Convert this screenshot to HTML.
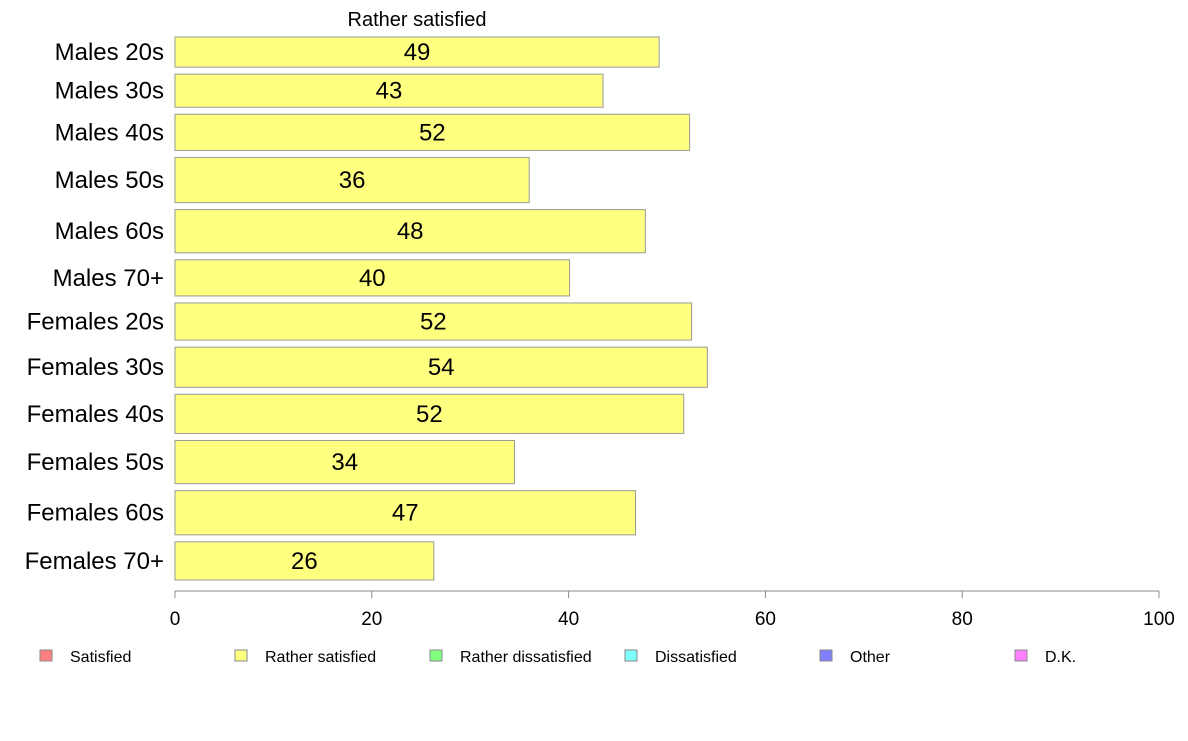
<!DOCTYPE html>
<html><head><meta charset="utf-8"><style>
body{margin:0;background:#fff;font-family:"Liberation Sans",Arial,sans-serif}
svg text{font-family:"Liberation Sans",Arial,sans-serif}
</style></head><body>
<svg id="c" width="1188" height="736">
<text x="417" y="26" font-size="20" text-anchor="middle">Rather satisfied</text>
<g id="bars"></g>
<g id="axis"></g>
<g id="legend"></g>
</svg>
<script>
const categories=["Males 20s","Males 30s","Males 40s","Males 50s","Males 60s","Males 70+","Females 20s","Females 30s","Females 40s","Females 50s","Females 60s","Females 70+"];
const values=[49.2,43.5,52.3,36,47.8,40.1,52.5,54.1,51.7,34.5,46.8,26.3];
const labels=["49","43","52","36","48","40","52","54","52","34","47","26"];
const rowWeights=[30,33,36,45,43,36,37,40,39,43,44,38];
const ticks=[0,20,40,60,80,100];
const legendItems=["Satisfied","Rather satisfied","Rather dissatisfied","Dissatisfied","Other","D.K."];
const legendColors=["#ff8080","#ffff80","#80ff80","#80ffff","#8080ff","#ff80ff"];
const NS="http://www.w3.org/2000/svg";
const x0=175,x1=1159,yTop=37,yBot=580,gap=7;
const xs=v=>x0+(v/100)*(x1-x0);
function mk(t,a,p){const e=document.createElementNS(NS,t);for(const k in a)e.setAttribute(k,a[k]);p.appendChild(e);return e;}
const bars=document.getElementById('bars');
const totalW=rowWeights.reduce((a,b)=>a+b,0);
const scale=(yBot-yTop-gap*(categories.length-1))/totalW;
let y=yTop;
categories.forEach((c,i)=>{
 const h=rowWeights[i]*scale;
 const r=mk('rect',{x:x0,y:y,width:xs(values[i])-x0,height:h,fill:'#ffff80',stroke:'#999','stroke-width':1},bars);
 
 
 const t=mk('text',{x:(x0+xs(values[i]))/2,y:y+h/2+8,'font-size':24,'text-anchor':'middle'},bars);t.textContent=labels[i];
 
 
 const l=mk('text',{x:164,y:y+h/2+8,'font-size':24,'text-anchor':'end'},bars);l.textContent=c;
 
 
 y+=h+gap;
});
const ax=document.getElementById('axis');
const al=mk('line',{x1:x0,x2:x1,y1:591,y2:591,stroke:'#888'},ax);


ticks.forEach(v=>{
 mk('line',{x1:xs(v),x2:xs(v),y1:591,y2:598,stroke:'#888'},ax);
 const t=mk('text',{x:xs(v),y:625,'font-size':19,'text-anchor':'middle'},ax);t.textContent=v;
 
 
});
const lg=document.getElementById('legend');
legendItems.forEach((n,i)=>{
 const lx=40+i*195;
 const r=mk('rect',{x:lx,y:650,width:12,height:11,fill:legendColors[i],stroke:'#888'},lg);
 
 
 const t=mk('text',{x:lx+30,y:662,'font-size':16},lg);t.textContent=n;
 
 
});
</script>
</body></html>
